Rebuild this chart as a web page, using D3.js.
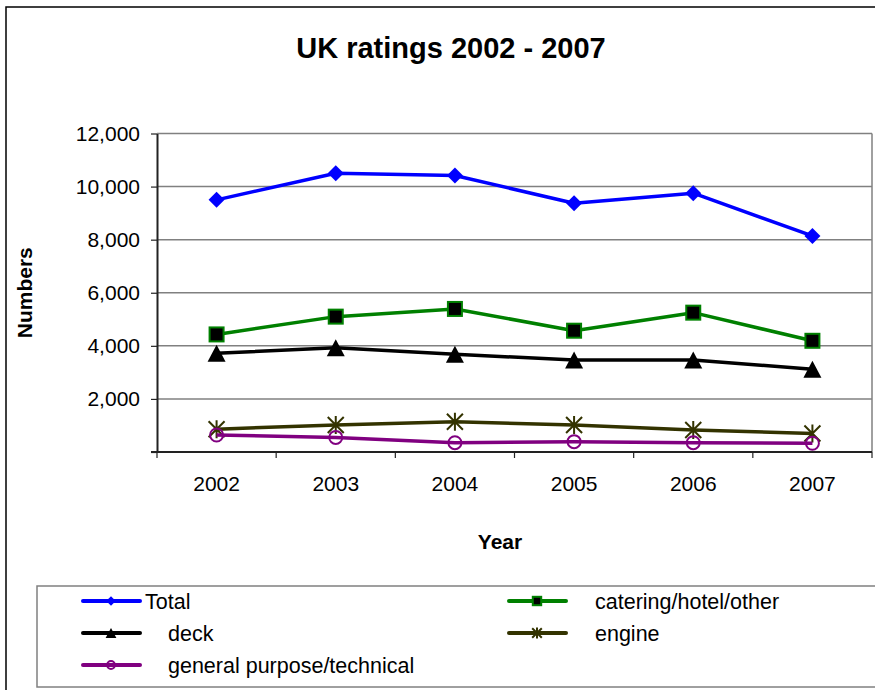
<!DOCTYPE html>
<html>
<head>
<meta charset="utf-8">
<script src="https://cdn.jsdelivr.net/npm/d3@7"></script>
<style>
  html, body { margin: 0; padding: 0; background: #fff; }
  svg { display: block; font-family: "Liberation Sans", Arial, sans-serif; }
</style>
</head>
<body>
<svg id="chart" width="875" height="690"></svg>
<script>
// UK ratings by department, 2002-2007
const years = ["2002", "2003", "2004", "2005", "2006", "2007"];
const seriesNames = ["Total", "catering/hotel/other", "deck", "engine", "general purpose/technical"];
const totalValues    = [9500, 10500, 10420, 9370, 9750, 8140];
const cateringValues = [4430, 5100, 5390, 4570, 5250, 4190];
const deckValues     = [3720, 3930, 3680, 3470, 3470, 3120];
const engineValues   = [860, 1020, 1140, 1020, 830, 700];
const generalValues  = [640, 550, 350, 390, 350, 330];
const yTicks = [0, 2000, 4000, 6000, 8000, 10000, 12000];

const series = [
  { name: seriesNames[0], values: totalValues,    color: "#0000ff", marker: "diamond" },
  { name: seriesNames[1], values: cateringValues, color: "#008000", marker: "square" },
  { name: seriesNames[2], values: deckValues,     color: "#000000", marker: "triangle" },
  { name: seriesNames[3], values: engineValues,   color: "#333300", marker: "star" },
  { name: seriesNames[4], values: generalValues,  color: "#800080", marker: "circle" }
];

const svg = d3.select("#chart");
const plot = { left: 157, right: 872, top: 133.5, bottom: 452 };

// outer chart frame (continues past the right and bottom edges)
svg.append("rect")
  .attr("x", 6).attr("y", 7).attr("width", 900).attr("height", 720)
  .attr("fill", "#fff").attr("stroke", "#000").attr("stroke-width", 1.5);

svg.append("text")
  .attr("x", 451).attr("y", 58)
  .attr("text-anchor", "middle")
  .attr("font-size", 29).attr("font-weight", "bold")
  .text("UK ratings 2002 - 2007");

const x = d3.scaleBand().domain(years).range([plot.left, plot.right]);
const y = d3.scaleLinear().domain([0, 12000]).range([plot.bottom, plot.top]);

// gridlines
svg.append("g")
  .selectAll("line")
  .data(yTicks.filter(d => d > 0))
  .join("line")
  .attr("x1", plot.left).attr("x2", plot.right)
  .attr("y1", d => y(d)).attr("y2", d => y(d))
  .attr("stroke", "#808080").attr("stroke-width", 1.5);

// right border of plot area
svg.append("line")
  .attr("x1", plot.right).attr("x2", plot.right)
  .attr("y1", plot.top).attr("y2", plot.bottom)
  .attr("stroke", "#808080").attr("stroke-width", 1.5);

// y axis
const yAxis = svg.append("g")
  .attr("transform", `translate(${plot.left},0)`)
  .call(d3.axisLeft(y).tickValues(yTicks)
    .tickFormat(d => d === 0 ? "" : d3.format(",")(d))
    .tickSize(6).tickPadding(11).tickSizeOuter(0));
yAxis.select(".domain").attr("stroke", "#222").attr("stroke-width", 2);
yAxis.selectAll(".tick line").attr("stroke", "#222").attr("stroke-width", 1.2);
yAxis.selectAll("text").attr("font-size", 21).attr("fill", "#000")
  .attr("font-family", "'Liberation Sans', Arial, sans-serif");

// x axis: labels centred in bands, ticks on band boundaries
const xAxis = svg.append("g")
  .attr("transform", `translate(0,${plot.bottom})`)
  .call(d3.axisBottom(x).tickSize(0).tickPadding(24).tickSizeOuter(0));
xAxis.select(".domain").remove();
xAxis.selectAll("text").attr("font-size", 21).attr("fill", "#000")
  .attr("font-family", "'Liberation Sans', Arial, sans-serif");
svg.append("line")
  .attr("x1", plot.left - 6).attr("x2", plot.right)
  .attr("y1", plot.bottom).attr("y2", plot.bottom)
  .attr("stroke", "#222").attr("stroke-width", 2);
svg.append("g")
  .selectAll("line")
  .data(years.map(d => x(d)).concat([plot.right]))
  .join("line")
  .attr("x1", d => d).attr("x2", d => d)
  .attr("y1", plot.bottom).attr("y2", plot.bottom + 6)
  .attr("stroke", "#222").attr("stroke-width", 1.2);

// axis titles
svg.append("text")
  .attr("transform", `translate(32,${(plot.top + plot.bottom) / 2}) rotate(-90)`)
  .attr("text-anchor", "middle")
  .attr("font-size", 21).attr("font-weight", "bold")
  .text("Numbers");
svg.append("text")
  .attr("x", 500).attr("y", 549)
  .attr("text-anchor", "middle")
  .attr("font-size", 21).attr("font-weight", "bold")
  .text("Year");

// marker drawing
function drawMarker(g, type, color, s) {
  if (type === "diamond") {
    g.append("path")
      .attr("d", `M0,${-8 * s}L${8 * s},0L0,${8 * s}L${-8 * s},0Z`)
      .attr("fill", color);
  } else if (type === "square") {
    g.append("rect")
      .attr("x", -7 * s).attr("y", -7 * s)
      .attr("width", 14 * s).attr("height", 14 * s)
      .attr("fill", "#000").attr("stroke", color).attr("stroke-width", 2);
  } else if (type === "triangle") {
    g.append("path")
      .attr("d", `M0,${-8.5 * s}L${9 * s},${8.5 * s}L${-9 * s},${8.5 * s}Z`)
      .attr("fill", color);
  } else if (type === "star") {
    g.append("path")
      .attr("d", `M${-8 * s},${-8 * s}L${8 * s},${8 * s}M${-8 * s},${8 * s}L${8 * s},${-8 * s}M0,${-9 * s}L0,${9 * s}`)
      .attr("fill", "none").attr("stroke", color).attr("stroke-width", 2);
  } else if (type === "circle") {
    g.append("circle")
      .attr("r", 6.5 * s)
      .attr("fill", "none").attr("stroke", color).attr("stroke-width", 2);
  }
}

const line = d3.line()
  .x((d, i) => x(years[i]) + x.bandwidth() / 2)
  .y(d => y(d));

series.forEach(s => {
  const g = svg.append("g");
  g.append("path")
    .datum(s.values)
    .attr("d", line)
    .attr("fill", "none")
    .attr("stroke", s.color)
    .attr("stroke-width", 3.5)
    .attr("stroke-linejoin", "round");
  s.values.forEach((v, i) => {
    const m = g.append("g")
      .attr("transform", `translate(${x(years[i]) + x.bandwidth() / 2},${y(v)})`);
    drawMarker(m, s.marker, s.color, 1);
  });
});

// legend
const legend = svg.append("g");
legend.append("rect")
  .attr("x", 37).attr("y", 586).attr("width", 860).attr("height", 101)
  .attr("fill", "#fff").attr("stroke", "#808080").attr("stroke-width", 1.5);

const legendSlots = [
  { lx: 83, ly: 601, tx: 145 },
  { lx: 509, ly: 601, tx: 595 },
  { lx: 83, ly: 633, tx: 168 },
  { lx: 509, ly: 633, tx: 595 },
  { lx: 83, ly: 665, tx: 168 }
];

series.forEach((s, i) => {
  const slot = legendSlots[i];
  const g = legend.append("g");
  g.append("line")
    .attr("x1", slot.lx).attr("x2", slot.lx + 57)
    .attr("y1", slot.ly).attr("y2", slot.ly)
    .attr("stroke", s.color).attr("stroke-width", 4)
    .attr("stroke-linecap", "round");
  const m = g.append("g").attr("transform", `translate(${slot.lx + 28},${slot.ly})`);
  drawMarker(m, s.marker, s.color, 0.6);
  g.append("text")
    .attr("x", slot.tx).attr("y", slot.ly + 7.5)
    .attr("font-size", 21.5)
    .text(s.name);
});
</script>
</body>
</html>
